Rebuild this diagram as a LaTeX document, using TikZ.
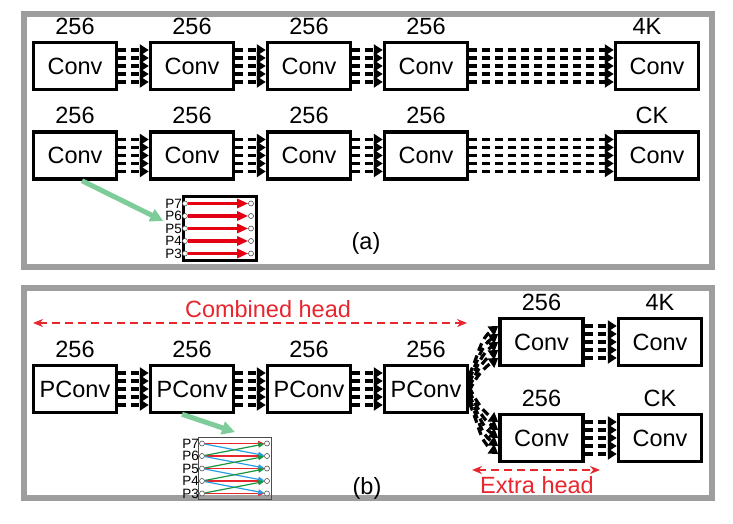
\documentclass[tikz,border=0pt]{standalone}
\usepackage{fontspec}
\setmainfont{Liberation Sans}
\usepackage{tikz}
\usetikzlibrary{arrows,arrows.meta,positioning}
\definecolor{headred}{RGB}{232,38,46}
\definecolor{levelred}{RGB}{228,0,18}
\definecolor{fanblue}{RGB}{40,158,228}
\definecolor{fangreen}{RGB}{24,150,64}
\definecolor{pointgreen}{RGB}{125,204,154}
\definecolor{framegray}{RGB}{158,158,158}
\tikzset{conv node/.style={rectangle,draw,line width=3.5pt,minimum width=83pt,minimum height=47pt,inner sep=2pt},
         level dot/.style={circle,draw=black!70,fill=white,line width=0.6pt,minimum size=5pt,inner sep=0pt},
         level label/.style={rectangle,inner sep=0pt,font=\fontsize{13.5}{14}\selectfont},
         legend box/.style={rectangle,draw,inner sep=0pt},
         bus/.style={line width=3.2pt,dash pattern=on 8pt off 5pt,-{Triangle[length=9pt,width=11pt]}},
         span/.style={headred,line width=1.3pt,dash pattern=on 8pt off 5pt,{Stealth[length=10pt,width=8pt]}-{Stealth[length=10pt,width=8pt]}},
         level arrow/.style={levelred,line width=3.5pt,-{Triangle[length=11pt,width=9pt]}},
         thin arrow/.style={line width=1.2pt,-{Triangle[length=6pt,width=5pt]}},
         pointer/.style={pointgreen,line width=5pt,-{Triangle[length=13pt,width=13pt]}},
         frame/.style={framegray,line width=5.5pt}
}
\begin{document}
\begin{tikzpicture}[x=1pt,y=1pt,
font=\fontsize{23.5}{27}\selectfont,
node distance=30.5pt,
label distance=6pt,
every label/.style={inner sep=0pt}]
\useasboundingbox (0,0) rectangle (733,524);

\draw[frame] (24,257) rectangle (712,510);
\draw[frame] (24,26) rectangle (712,236);

% (a) separate heads
\node[conv node,label=above:256] (t1) at (75,458) {Conv};
\node[conv node,label=above:256,right=of t1] (t2) {Conv};
\node[conv node,label=above:256,right=of t2] (t3) {Conv};
\node[conv node,label=above:256,right=of t3] (t4) {Conv};
\node[conv node,label={[xshift=-10pt]above:4K},right=144.5pt of t4] (t5) {Conv};
\node[conv node,label=above:256,below=39pt of t1] (u1) {Conv};
\node[conv node,label=above:256,right=of u1] (u2) {Conv};
\node[conv node,label=above:256,right=of u2] (u3) {Conv};
\node[conv node,label=above:256,right=of u3] (u4) {Conv};
\node[conv node,label={[xshift=-5pt]above:CK},right=144.5pt of u4] (u5) {Conv};

% (b) combined head
\node[conv node,label=above:256] (p1) at (75,135) {PConv};
\node[conv node,label=above:256,right=of p1] (p2) {PConv};
\node[conv node,label=above:256,right=of p2] (p3) {PConv};
\node[conv node,label=above:256,right=of p3] (p4) {PConv};
\node[conv node,label=above:256] (h1) at (541.5,182) {Conv};
\node[conv node,label=above:4K,right=32pt of h1] (h2) {Conv};
\node[conv node,label=above:256,below=45.5pt of h1] (g1) {Conv};
\node[conv node,label=above:CK,right=32pt of g1] (g2) {Conv};

\foreach \s/\t in {t1/t2,t2/t3,t3/t4,t4/t5,u1/u2,u2/u3,u3/u4,u4/u5,p1/p2,p2/p3,p3/p4,h1/h2,g1/g2}
  \foreach \k in {-16,-8,0,8,16}
    \draw[bus] ([yshift=\k pt]\s.east) -- ([yshift=\k pt]\t.west);
\foreach \k in {0,...,4}{
  \draw[bus] ([yshift={(14-4*\k)*1pt}]p4.east) to[out=65,in=215] ([yshift={(16-8*\k)*1pt}]h1.west);
  \draw[bus] ([yshift={(2-4*\k)*1pt}]p4.east) to[out=-65,in=145] ([yshift={(16-8*\k)*1pt}]g1.west);
}

% pyramid levels
\node[legend box,line width=3.5pt,minimum width=73pt,minimum height=64pt] (la) at (220,295.5) {};
\foreach \n [count=\i] in {7,6,5,4,3}{
  \node[level dot] (al\n) at ([shift={(-35,37.5-12.5*\i)}]la.center) {};
  \node[level dot] (ar\n) at ([shift={(31,37.5-12.5*\i)}]la.center) {};
  \node[level label,left=0pt of al\n] (pa\n) {P\n};
  \draw[level arrow] (al\n) -- (ar\n);
}
\node[legend box,draw=black!70,line width=0.8pt,minimum width=73pt,minimum height=62pt] (lb) at (235,55.5) {};
\foreach \n [count=\i] in {7,6,5,4,3}{
  \node[level dot] (bl\n) at ([shift={(-33,37.5-12.5*\i)}]lb.center) {};
  \node[level dot] (br\n) at ([shift={(32,37.5-12.5*\i)}]lb.center) {};
  \node[level label,left=0pt of bl\n] (pb\n) {P\n};
  \draw[thin arrow,headred] (bl\n) -- (br\n);
}
\foreach \s/\t in {7/6,6/5,5/4,4/3}{
  \draw[thin arrow,fanblue] (bl\s) -- (br\t);
  \draw[thin arrow,fangreen] (bl\t) -- (br\s);
}
\draw[pointer] ([xshift=7pt]u1.south) -- ([xshift=-2pt]pa6.south west);
\draw[pointer] ([xshift=-10pt]p2.south) -- ([yshift=5pt]lb.north);

% spans
\coordinate (cl) at (33,201);
\coordinate (cr) at (467,201);
\draw[span] (cl) -- (cr);
\node[text=headred] (ctext) at (268,215) {Combined head};
\coordinate (el) at (472,54);
\coordinate (er) at (600,54);
\draw[span] (el) -- (er);
\node[text=headred] (etext) at (537,39) {Extra head};

\node (taga) at (366,281) {(a)};
\node (tagb) at (367,36) {(b)};
\end{tikzpicture}
\end{document}
